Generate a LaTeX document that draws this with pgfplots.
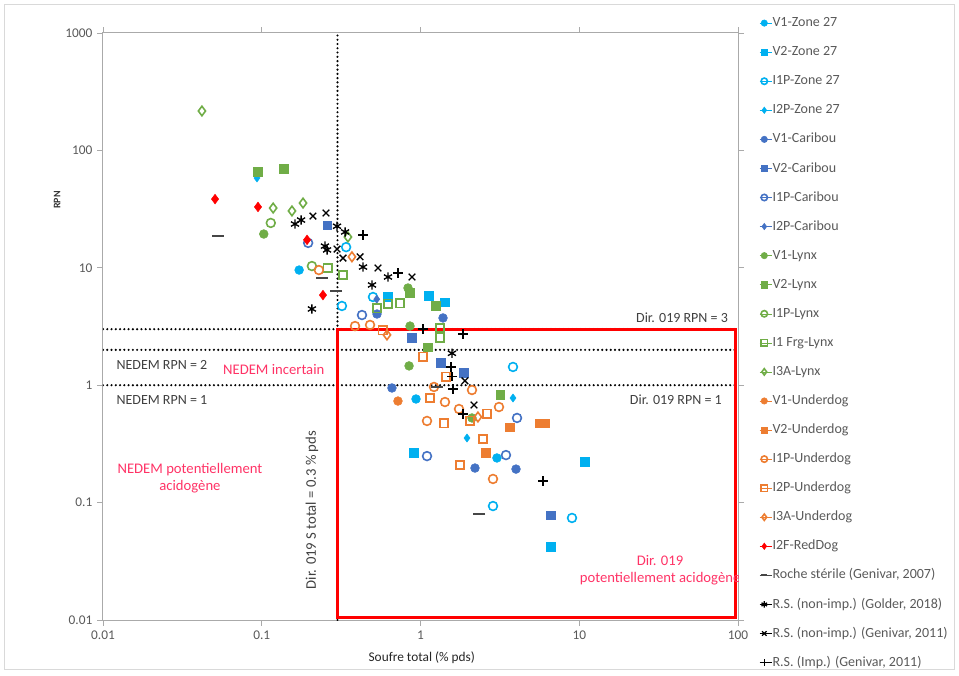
\documentclass[border=0pt]{standalone}
\usepackage{fontspec}
\setmainfont{Carlito}
\usepackage{pgfplots}
\pgfplotsset{compat=1.18}
\definecolor{zone}{RGB}{0,176,240}
\definecolor{cari}{RGB}{68,114,196}
\definecolor{lynx}{RGB}{112,173,71}
\definecolor{under}{RGB}{237,125,49}
\definecolor{pinkt}{RGB}{255,51,102}
\definecolor{axgrey}{RGB}{170,170,170}
\definecolor{txtgrey}{RGB}{89,89,89}
\definecolor{dashgrey}{RGB}{70,70,70}
\begin{document}
\begin{tikzpicture}[x=1pt,y=1pt]
\useasboundingbox (-77.25,-41.25) rectangle (642,465);
\draw[black!15, line width=0.75pt] (-74,-37) rectangle (638.25,461.25);
\begin{axis}[
  at={(0,0)}, anchor=south west,
  scale only axis, width=476.25pt, height=440.25pt,
  xmode=log, ymode=log,
  xmin=0.01, xmax=100, ymin=0.01, ymax=1000,
  xtick={0.01,0.1,1,10,100}, xticklabels={0.01,0.1,1,10,100},
  ytick={0.01,0.1,1,10,100,1000}, yticklabels={0.01,0.1,1,10,100,1000},
  xminorticks=false, yminorticks=false,
  tick align=outside, major tick length=4.5pt,
  tick style={axgrey, line width=0.6pt},
  axis line style={axgrey, line width=0.75pt},
  ticklabel style={font=\fontsize{10}{12}\selectfont, text=txtgrey},
  /pgf/number format/assume math mode=true,
  xlabel={Soufre total (\% pds)},
  ylabel={RPN},
  xlabel style={at={(axis description cs:0.502,-0.0647)}, anchor=center, font=\fontsize{10}{12}\selectfont, text=black!85},
  ylabel style={at={(axis description cs:-0.0724,0.7155)}, anchor=center, font=\bfseries\fontsize{7.5}{9}\selectfont, text=black!80},
  legend style={at={(axis description cs:1.0336,1.028)}, anchor=north west, draw=none, fill=none,
    inner sep=0pt, outer sep=0pt, row sep=12pt,
    font=\fontsize{10.5}{12}\selectfont, text=txtgrey,
    nodes={inner sep=0pt, text height=7.6pt, text depth=2.2pt}},
  legend cell align=left,
  legend image code/.code={\path (0pt,0pt) -- (9.5pt,0pt); \draw[mark repeat=2,mark phase=2,#1,mark size=2.4pt] plot coordinates {(0pt,0pt)(3.5pt,0pt)(7pt,0pt)};},
  every axis plot/.append style={only marks},
]
% reference lines
\addplot[forget plot, no markers, sharp plot, black, line width=1.8pt, line cap=round, dash pattern=on 0pt off 3.2pt] coordinates {(0.3,0.01)(0.3,1000)};
\addplot[forget plot, no markers, sharp plot, black, line width=1.8pt, line cap=round, dash pattern=on 0pt off 3.2pt] coordinates {(0.01,3)(100,3)};
\addplot[forget plot, no markers, sharp plot, black, line width=1.8pt, line cap=round, dash pattern=on 0pt off 3.2pt] coordinates {(0.01,2)(100,2)};
\addplot[forget plot, no markers, sharp plot, black, line width=1.8pt, line cap=round, dash pattern=on 0pt off 3.2pt] coordinates {(0.01,1)(100,1)};
\addplot[forget plot, no markers, sharp plot, red, line width=2.25pt, line join=miter] coordinates {(0.3,0.0106)(0.3,3)(96,3)(96,0.0106)(0.3,0.0106)(0.3,3)};

% annotations
\node[text=black!75, font=\fontsize{10.5}{12}\selectfont] at (axis cs:44.4,3.74) {Dir. 019 RPN = 3};
\node[text=black!75, font=\fontsize{10.5}{12}\selectfont] at (axis cs:0.0235,1.49) {NEDEM RPN = 2};
\node[text=black!75, font=\fontsize{10.5}{12}\selectfont] at (axis cs:0.0235,0.748) {NEDEM RPN = 1};
\node[text=black!75, font=\fontsize{10.5}{12}\selectfont] at (axis cs:40.6,0.748) {Dir. 019 RPN = 1};
\node[text=pinkt, font=\fontsize{11}{13}\selectfont] at (axis cs:0.119,1.37) {NEDEM incertain};
\node[text=pinkt, font=\fontsize{11}{13}\selectfont, align=center] at (axis cs:0.0353,0.162) {NEDEM potentiellement\\acidogène};
\node[text=black!75, font=\fontsize{11}{13}\selectfont, rotate=90] at (axis cs:0.207,0.0865) {Dir. 019 S total = 0.3 \% pds};
\node[text=pinkt, font=\fontsize{11}{13}\selectfont, align=center] at (axis cs:32.3,0.0267) {Dir. 019\\potentiellement acidogène};

% data
\addplot[mark=*, mark size=3.3pt, color=zone] coordinates {(0.172,9.57)(0.937,0.763)(3.03,0.240)};
\addlegendentry{V1-Zone 27}
\addplot[mark=square*, mark size=3.2pt, color=zone] coordinates {(0.624,5.64)(1.131,5.75)(1.426,5.11)(0.91,0.265)(10.87,0.222)(6.64,0.0419)};
\addlegendentry{V2-Zone 27}
\addplot[mark=o, mark size=3.3pt, color=zone, mark options={line width=1.2pt}] coordinates {(0.34,15.0)(0.32,4.73)(0.502,5.64)(3.825,1.43)(2.862,0.0935)(9.0,0.074)};
\addlegendentry{I1P-Zone 27}
\addplot[mark=diamond*, mark size=3pt, color=zone] coordinates {(0.0933,58.2)(3.825,0.778)(1.963,0.355)};
\addlegendentry{I2P-Zone 27}
\addplot[mark=*, mark size=3.3pt, color=cari] coordinates {(0.661,0.947)(1.386,3.74)(2.204,0.197)(3.996,0.193)(0.532,4.04)};
\addlegendentry{V1-Caribou}
\addplot[mark=square*, mark size=3.2pt, color=cari] coordinates {(0.258,23.1)(0.884,2.53)(1.346,1.55)(1.879,1.27)(6.64,0.078)};
\addlegendentry{V2-Caribou}
\addplot[mark=o, mark size=3.3pt, color=cari, mark options={line width=1.2pt}] coordinates {(0.196,16.3)(0.428,3.96)(1.099,0.249)(3.455,0.254)(4.055,0.526)};
\addlegendentry{I1P-Caribou}
\addplot[mark=diamond*, mark size=3pt, color=cari] coordinates {(0.53,5.4)};
\addlegendentry{I2P-Caribou}
\addplot[mark=*, mark size=3.3pt, color=lynx] coordinates {(0.103,19.4)(0.834,6.73)(0.859,3.19)(0.847,1.46)(2.11,0.526)};
\addlegendentry{V1-Lynx}
\addplot[mark=square*, mark size=3.2pt, color=lynx] coordinates {(0.0947,65.5)(0.138,69.4)(0.859,6.10)(1.252,4.73)(3.17,0.825)(1.115,2.11)};
\addlegendentry{V2-Lynx}
\addplot[mark=o, mark size=3.3pt, color=lynx, mark options={line width=1.2pt}] coordinates {(0.114,24.1)(0.207,10.35)};
\addlegendentry{I1P-Lynx}
\addplot[mark=square, mark size=3.2pt, color=lynx, mark options={line width=1.2pt}] coordinates {(0.261,9.96)(0.325,8.68)(0.532,4.54)(0.624,4.92)(0.743,5.01)(1.327,3.07)(1.327,2.53)};
\addlegendentry{I1 Frg-Lynx}
\addplot[mark=diamond, mark size=3.6pt, color=lynx, mark options={line width=1.2pt}] coordinates {(0.042,216.6)(0.118,32.3)(0.155,30.5)(0.182,35.6)(0.349,18.3)};
\addlegendentry{I3A-Lynx}
\addplot[mark=*, mark size=3.3pt, color=under] coordinates {(0.721,0.733)};
\addlegendentry{V1-Underdog}
\addplot[mark=square*, mark size=3.2pt, color=under] coordinates {(3.66,0.44)(5.6,0.476)(6.1,0.476)(2.586,0.265)};
\addlegendentry{V2-Underdog}
\addplot[mark=o, mark size=3.3pt, color=under, mark options={line width=1.2pt}] coordinates {(0.229,9.57)(0.387,3.19)(0.481,3.26)(1.216,0.966)(1.426,0.719)(2.11,0.91)(1.748,0.627)(1.099,0.496)(3.122,0.652)(2.862,0.159)};
\addlegendentry{I1P-Underdog}
\addplot[mark=square, mark size=3.2pt, color=under, mark options={line width=1.2pt}] coordinates {(0.58,2.95)(1.037,1.74)(1.148,0.778)(1.406,0.476)(2.476,0.348)(1.774,0.209)(1.447,1.18)(2.05,0.496)(2.624,0.569)};
\addlegendentry{I2P-Underdog}
\addplot[mark=diamond, mark size=3.6pt, color=under, mark options={line width=1.2pt}] coordinates {(0.37,12.4)(0.615,2.68)(2.30,0.536)};
\addlegendentry{I3A-Underdog}
\addplot[mark=diamond*, mark size=3.6pt, color=red] coordinates {(0.0508,38.5)(0.0947,33.0)(0.193,17.3)(0.243,5.86)};
\addlegendentry{I2F-RedDog}
\addplot[mark=-, mark size=4.5pt, color=dashgrey, mark options={line width=1.4pt}] coordinates {(0.053,18.6)(0.2395,8.18)(0.294,6.34)(1.27,0.966)(2.337,0.080)};
\addlegendentry{Roche stérile (Genivar, 2007)}
\addplot[mark=asterisk, mark size=3.5pt, color=black, mark options={line width=1pt}] coordinates {(0.162,23.6)(0.177,25.5)(0.207,4.46)(0.298,22.6)(0.335,20.2)(0.258,14.2)(0.4345,10.15)(0.495,7.14)(0.624,8.35)(1.578,1.87)(0.25,15.3)};
\addlegendentry{R.S. (non-imp.) (Golder, 2018)}
\addplot[mark=x, mark size=3.5pt, color=black, mark options={line width=1pt}] coordinates {(0.21,27.6)(0.254,29.3)(0.298,14.45)(0.325,12.1)(0.416,12.4)(0.54,9.96)(0.884,8.35)(1.906,1.09)(2.173,0.678)};
\addlegendentry{R.S. (non-imp.) (Genivar, 2011)}
\addplot[mark=+, mark size=3.5pt, color=black, mark options={line width=1pt}] coordinates {(0.4345,19.0)(0.721,9.03)(1.037,3.01)(1.852,2.73)(1.556,1.43)(1.602,0.929)(1.852,0.569)(5.91,0.153)(1.578,1.18)};
\addlegendentry{R.S. (Imp.) (Genivar, 2011)}
\end{axis}
\end{tikzpicture}
\end{document}
